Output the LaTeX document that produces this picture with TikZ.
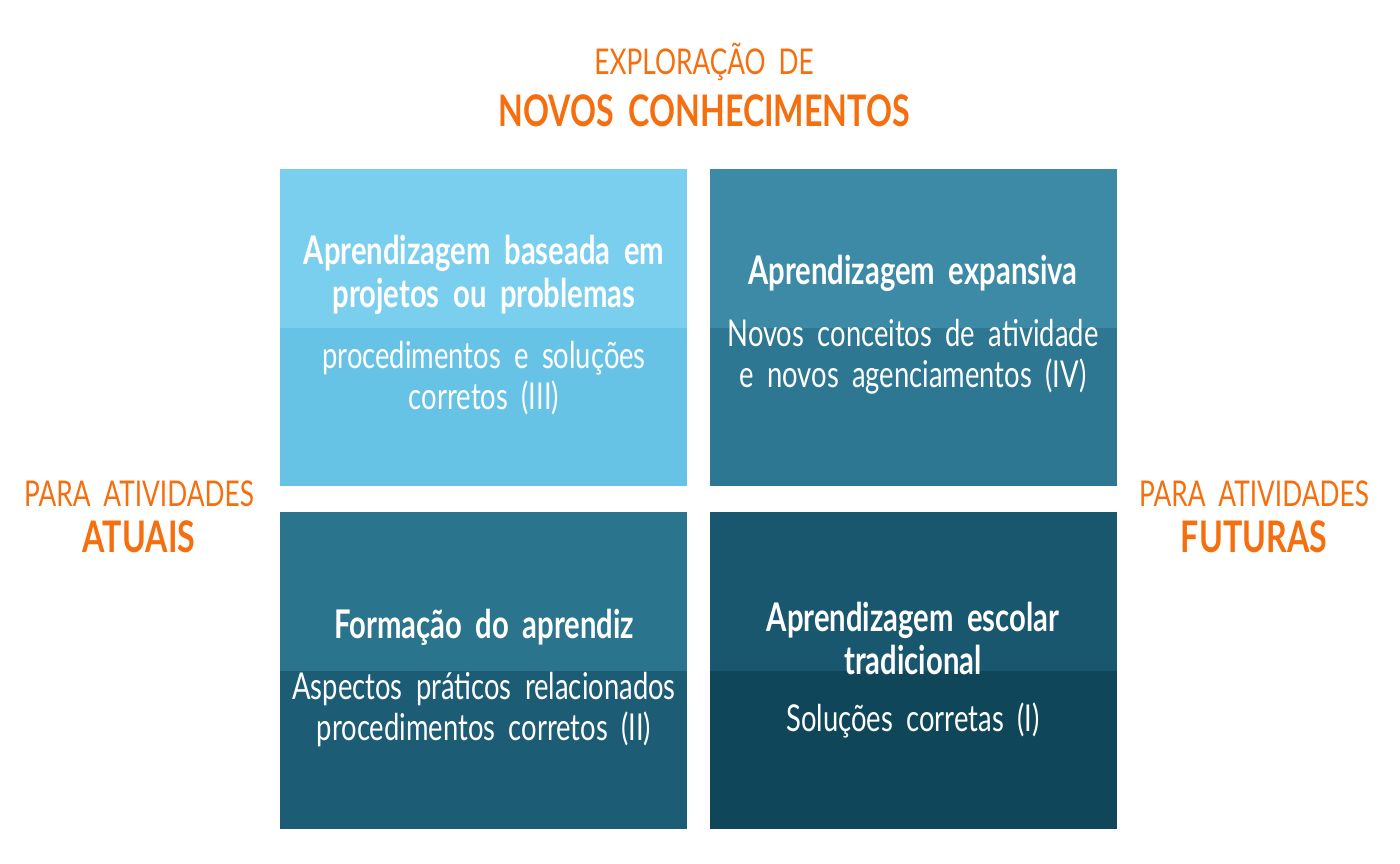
\documentclass[tikz,border=0pt]{standalone}
\usepackage{fontspec}
\setmainfont{Lato}[FakeStretch=0.74, WordSpace=1.9]
\definecolor{laranja}{HTML}{F56F0F}
\definecolor{tlTop}{HTML}{7BCFEE}
\definecolor{tlBot}{HTML}{67C3E5}
\definecolor{trTop}{HTML}{3C8AA6}
\definecolor{trBot}{HTML}{2D7792}
\definecolor{blTop}{HTML}{2B748D}
\definecolor{blBot}{HTML}{1C5C75}
\definecolor{brTop}{HTML}{19576E}
\definecolor{brBot}{HTML}{10465A}
\begin{document}
\begin{tikzpicture}[x=1pt, y=-1pt,
half/.style={rectangle, inner sep=0pt, minimum width=407pt, minimum height=158.5pt, anchor=north west},
head/.style={text=white, align=center, font=\fontsize{39.5}{43}\selectfont\bfseries},
body/.style={text=white, align=center, font=\fontsize{37}{41}\selectfont},
eixo/.style={text=laranja, align=center, font=\fontsize{35.5}{36}\selectfont},
eixoforte/.style={text=laranja, align=center, font=\fontsize{43.5}{44}\selectfont\bfseries},
]
\useasboundingbox (0,0) rectangle (1400,864);

% quadrantes
\node[half, fill=tlTop] (tlA) at (280,169) {};
\node[half, fill=tlBot] (tlB) at (280,327.5) {};
\node[half, fill=trTop] (trA) at (710,169) {};
\node[half, fill=trBot] (trB) at (710,327.5) {};
\node[half, fill=blTop] (blA) at (280,512) {};
\node[half, fill=blBot] (blB) at (280,670.5) {};
\node[half, fill=brTop] (brA) at (710,512) {};
\node[half, fill=brBot] (brB) at (710,670.5) {};

% textos
\node[head] (tlHead) at (484,275) {Aprendizagem baseada em\\projetos ou problemas};
\node[body] (tlBody) at (484,378) {procedimentos e soluções\\corretos (III)};
\node[head] (trHead) at (913,273) {Aprendizagem expansiva};
\node[body] (trBody) at (913,357) {Novos conceitos de atividade\\e novos agenciamentos (IV)};
\node[head] (blHead) at (484,627) {Formação do aprendiz};
\node[body] (blBody) at (484,710) {Aspectos práticos relacionados\\procedimentos corretos (II)};
\node[head] (brHead) at (913,638) {Aprendizagem escolar\\tradicional};
\node[body] (brBody) at (913,720) {Soluções corretas (I)};

% eixos
\node[eixo] (topo1) at (704,62) {EXPLORAÇÃO DE};
\node[eixoforte] (topo2) at (704,111) {NOVOS CONHECIMENTOS};
\node[eixo] (esq1) at (139,494) {PARA ATIVIDADES};
\node[eixoforte] (esq2) at (139,537) {ATUAIS};
\node[eixo] (dir1) at (1254,494) {PARA ATIVIDADES};
\node[eixoforte] (dir2) at (1254,537) {FUTURAS};
\end{tikzpicture}
\end{document}
